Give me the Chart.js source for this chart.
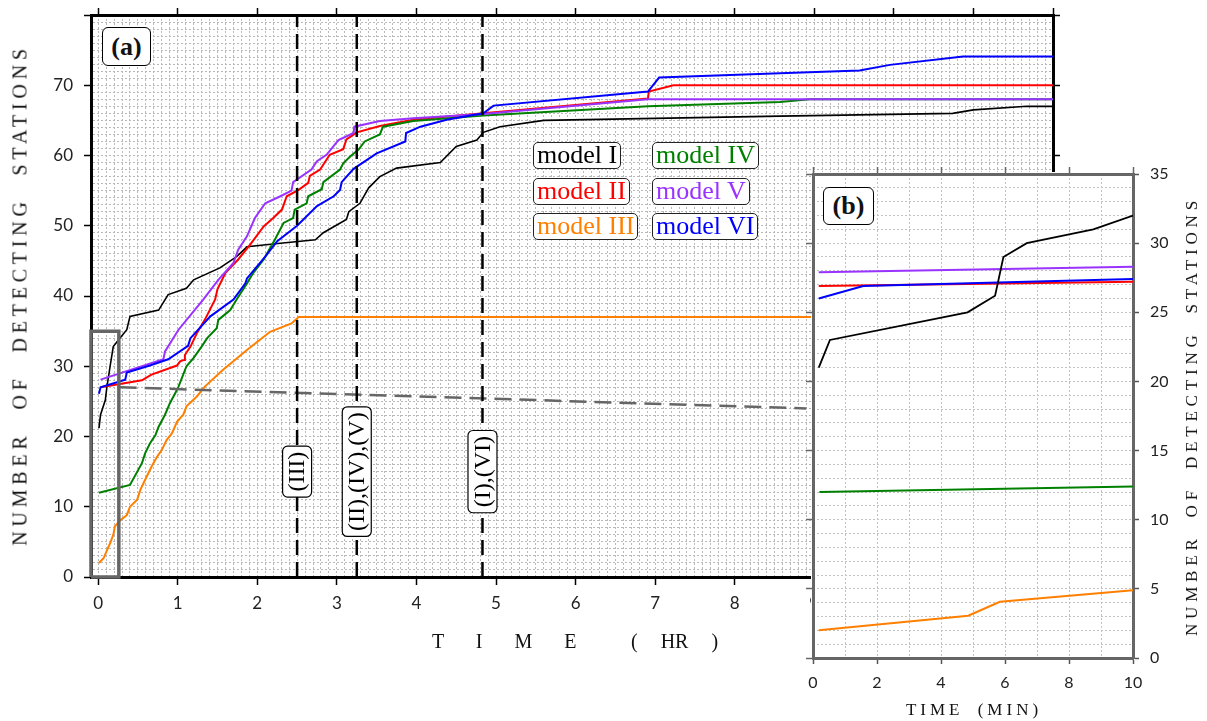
<!DOCTYPE html>
<html>
<head>
<meta charset="utf-8">
<title>Number of detecting stations vs time</title>
<script src="https://cdn.jsdelivr.net/npm/chart.js@4.4.1/dist/chart.umd.min.js"></script>
<style>
    body { margin: 0; background: #fff; }
    #wrap { position: relative; width: 1207px; height: 721px; overflow: hidden; font-family: 'Liberation Serif', 'Times New Roman', serif; color: #111; }
    canvas { position: absolute; }
    #mainChart { left: 0; top: 0; }
    #insetChart { left: 806px; top: 166px; z-index: 2; }
    .tag { position: absolute; border: 1px solid #000; border-radius: 6px; background: #fff; font-weight: bold; font-size: 26px; text-align: center; z-index: 3; }
    .leg { position: absolute; border: 1px solid #222; border-radius: 5px; background: #fff; font-size: 26px; line-height: 24px; padding: 0 3px 1px 3px; white-space: nowrap; z-index: 1; }
    .ttl { position: absolute; white-space: pre; z-index: 3; }
    .rot { transform: translate(-50%, -50%) rotate(-90deg); }
</style>
</head>
<body>
<div id="wrap">
    <canvas id="mainChart" width="1207" height="721"></canvas>
    <canvas id="insetChart" width="401" height="555"></canvas>

    <div class="tag" style="left:102px; top:27px; width:47px; height:37px; line-height:37px;">(a)</div>
    <div class="tag" style="left:823px; top:187px; width:49px; height:36px; line-height:36px;">(b)</div>

    <div class="leg" style="left:533px; top:142px; color:#000;">model I</div>
    <div class="leg" style="left:533px; top:178px; color:#ff0000;">model II</div>
    <div class="leg" style="left:533px; top:213px; color:#ff8000;">model III</div>
    <div class="leg" style="left:652px; top:142px; color:#008000;">model IV</div>
    <div class="leg" style="left:652px; top:178px; color:#9933ff;">model V</div>
    <div class="leg" style="left:652px; top:213px; color:#0000ff;">model VI</div>

    <!-- axis titles -->
    <div class="ttl rot" style="left:20px; top:295px; font-size:20px; letter-spacing:4.8px; word-spacing:12px;">NUMBER OF DETECTING STATIONS</div>
    <div class="ttl" style="left:432px; top:630px; font-size:20px; word-spacing:27px;">T I M E</div>
    <div class="ttl" style="left:631px; top:630px; font-size:20px; word-spacing:18px;">( HR )</div>
    <div class="ttl rot" style="left:1192px; top:416px; font-size:17px; letter-spacing:4.8px; word-spacing:8px;">NUMBER OF DETECTING STATIONS</div>
    <div class="ttl" style="left:974px; top:710px; font-size:17px; letter-spacing:4px; word-spacing:6px; transform:translate(-50%,-50%);">TIME (MIN)</div>
</div>

<script>
// ---- main panel (a): time in hours ----
const hrI  = [0.01, 0.03, 0.09, 0.11, 0.13, 0.15, 0.19, 0.26, 0.36, 0.40, 0.76, 0.88, 1.11, 1.20, 1.53, 1.74, 1.87, 2.29, 2.73, 2.83, 3.12, 3.15, 3.29, 3.40, 3.54, 3.75, 4.30, 4.50, 4.76, 4.84, 5.05, 5.60, 8.57, 10.74, 11.00, 11.67, 12.0];
const nI   = [21.2, 23.1, 25.2, 27.1, 28.5, 30.0, 32.8, 33.8, 35.2, 37.1, 38.0, 40.2, 41.1, 42.3, 44.0, 45.6, 47.0, 47.5, 48.0, 49.0, 50.9, 52.0, 53.2, 55.4, 57.0, 58.2, 59.0, 61.3, 62.2, 63.3, 64.1, 65.0, 65.6, 66.0, 66.5, 67.0, 67.0];

const hrII = [0.03, 0.55, 0.67, 0.99, 1.03, 1.08, 1.09, 1.16, 1.24, 1.34, 1.47, 1.50, 1.60, 1.76, 1.91, 2.08, 2.20, 2.31, 2.37, 2.52, 2.64, 2.66, 2.79, 2.91, 3.08, 3.12, 3.25, 3.54, 3.96, 4.84, 6.91, 6.92, 7.23, 12.0];
const nII  = [27.0, 28.0, 28.8, 30.1, 30.7, 30.9, 31.6, 32.8, 34.7, 36.6, 39.5, 41.0, 43.3, 45.2, 47.3, 49.9, 51.1, 52.3, 54.2, 55.1, 56.1, 57.1, 58.0, 60.1, 60.9, 62.3, 63.3, 64.2, 65.1, 66.0, 68.1, 69.1, 70.0, 70.0];

const hrIII = [0.01, 0.07, 0.11, 0.15, 0.19, 0.21, 0.28, 0.36, 0.40, 0.49, 0.53, 0.61, 0.67, 0.74, 0.80, 0.86, 0.93, 0.99, 1.07, 1.11, 1.24, 1.34, 1.57, 1.87, 2.16, 2.43, 2.52, 12.0];
const nIII  = [2.0, 2.7, 3.8, 4.8, 6.0, 7.2, 8.1, 8.8, 10.0, 11.0, 12.4, 14.3, 15.7, 17.1, 18.1, 19.5, 20.5, 22.1, 23.1, 24.3, 25.7, 27.1, 29.5, 32.3, 34.9, 36.1, 37.0, 37.0];

const hrIV = [0.01, 0.40, 0.55, 0.59, 0.65, 0.72, 0.76, 0.84, 0.90, 0.97, 1.01, 1.11, 1.20, 1.30, 1.37, 1.49, 1.51, 1.66, 1.74, 1.87, 1.95, 2.08, 2.22, 2.33, 2.45, 2.47, 2.62, 2.64, 2.81, 2.83, 3.04, 3.08, 3.17, 3.27, 3.35, 3.54, 3.58, 3.96, 4.84, 6.91, 8.57, 8.94, 12.0];
const nIV  = [12.0, 13.1, 16.2, 17.6, 19.0, 20.2, 21.4, 23.1, 24.7, 26.2, 27.1, 30.0, 31.2, 32.8, 34.0, 35.4, 36.6, 38.0, 39.5, 41.8, 43.3, 45.2, 48.0, 50.4, 51.1, 52.3, 53.2, 54.2, 55.2, 56.2, 58.0, 58.9, 59.9, 60.8, 62.0, 63.0, 64.1, 64.9, 65.7, 67.0, 67.6, 68.0, 68.0];

const hrV = [0.03, 0.82, 0.84, 1.01, 1.32, 1.51, 1.70, 1.76, 1.87, 1.97, 2.10, 2.29, 2.43, 2.45, 2.68, 2.75, 2.87, 3.02, 3.21, 3.22, 3.54, 3.96, 4.84, 6.91, 12.0];
const nV  = [28.1, 31.0, 32.1, 35.2, 39.5, 42.3, 44.7, 46.6, 48.5, 51.1, 53.2, 54.2, 55.0, 56.2, 58.0, 59.2, 60.1, 62.2, 63.2, 64.1, 64.9, 65.3, 65.9, 68.0, 68.0];

const hrVI = [0.01, 0.03, 0.34, 0.36, 0.65, 0.88, 1.13, 1.16, 1.41, 1.70, 1.85, 1.87, 2.10, 2.25, 2.50, 2.75, 2.96, 3.04, 3.06, 3.21, 3.50, 3.86, 3.87, 4.05, 4.38, 4.84, 4.97, 6.91, 7.05, 8.57, 9.57, 9.95, 10.87, 12.0];
const nVI  = [26.1, 27.0, 28.1, 29.1, 30.1, 31.0, 32.9, 34.0, 37.1, 39.5, 41.8, 42.5, 45.6, 47.8, 50.0, 52.8, 54.2, 55.1, 56.2, 58.1, 60.3, 62.0, 63.2, 64.1, 65.1, 66.0, 67.1, 69.1, 71.1, 71.7, 72.1, 72.9, 74.1, 74.1];

// dashed markers (hours) and their labels
const markerHr = [2.5, 3.25, 4.83];
const markerText = ['(III)', '(II),(IV),(V)', '(I),(VI)'];
const markerLabelN = 15;

// zoom box around the first minutes and the dashed link to panel (b)
const zoomBoxHr = [-0.09, 0.26, 0.26, -0.09, -0.09];
const zoomBoxN  = [0, 0, 35, 35, 0];
const linkHr = [0.27, 8.9];
const linkN  = [27, 24];

// ---- inset panel (b): time in minutes ----
const minI  = [0.18, 0.53, 4.83, 5.69, 5.95, 6.68, 8.76, 10];
const mnI   = [21.0, 23.0, 25.0, 26.2, 29.0, 30.0, 31.0, 32.0];
const minII = [0.18, 10];
const mnII  = [26.9, 27.2];
const minIII = [0.18, 4.85, 5.84, 10];
const mnIII  = [2.0, 3.06, 4.07, 4.9];
const minIV = [0.2, 10];
const mnIV  = [12.0, 12.4];
const minV  = [0.18, 10];
const mnV   = [27.9, 28.3];
const minVI = [0.18, 1.57, 10];
const mnVI  = [26.0, 26.9, 27.4];

const modelColors = ['#000000', '#ff0000', '#ff8000', '#008000', '#9933ff', '#0000ff'];

Chart.defaults.font.family = "Lato, 'DejaVu Sans', sans-serif";
Chart.defaults.color = '#222';
Chart.defaults.animation = false;

// HELPERS
function pts(xs, ys) {
    return xs.map((x, i) => ({ x: x, y: ys[i] }));
}

function isMult(v, step) {
    const q = v / step;
    return Math.abs(q - Math.round(q)) < 1e-6;
}

function tickList(from, to, step) {
    const out = [];
    const n = Math.round((to - from) / step);
    for (let i = 0; i <= n; i++) out.push({ value: +(from + i * step).toFixed(4) });
    return out;
}

function series(data, color, width) {
    return {
        data: data,
        showLine: true,
        borderColor: color,
        borderWidth: width,
        pointRadius: 0,
        tension: 0,
        fill: false
    };
}

// fixed box size for a scale (labels are clipped to that box)
function fixSize(size) {
    return s => {
        if (s.isHorizontal()) s.height = size; else s.width = size;
        s.paddingLeft = s.paddingRight = s.paddingTop = s.paddingBottom = 0;
    };
}

// axes that only hold the frame and tick marks, no labels
function frameAxis(position, min, max, step, color) {
    return {
        type: 'linear',
        position: position,
        min: min,
        max: max,
        afterBuildTicks: s => { s.ticks = tickList(Math.max(min, 0), max, step); },
        afterFit: fixSize(0),
        ticks: { display: false },
        grid: { drawOnChartArea: false, tickLength: 7, tickWidth: 1.5, tickColor: color },
        border: { color: color, width: 3 }
    };
}

// boxed, rotated labels on the dashed marker lines
const markerLabels = {
    id: 'markerLabels',
    afterDatasetsDraw(chart) {
        const { ctx, scales } = chart;
        ctx.save();
        ctx.font = "24px 'Liberation Serif', serif";
        markerHr.forEach((hr, i) => {
            const px = scales.x.getPixelForValue(hr);
            const py = scales.y.getPixelForValue(markerLabelN);
            const w = ctx.measureText(markerText[i]).width + 11;
            const h = 29;
            ctx.save();
            ctx.translate(px, py);
            ctx.rotate(-Math.PI / 2);
            ctx.beginPath();
            ctx.roundRect(-w / 2, -h / 2, w, h, 5);
            ctx.fillStyle = '#fff';
            ctx.fill();
            ctx.lineWidth = 1.2;
            ctx.strokeStyle = '#000';
            ctx.stroke();
            ctx.fillStyle = '#000';
            ctx.textAlign = 'center';
            ctx.textBaseline = 'middle';
            ctx.fillText(markerText[i], 0, 1);
            ctx.restore();
        });
        ctx.restore();
    }
};

// 1. MAIN PANEL (a)
const mainDatasets = [];
markerHr.forEach(hr => {
    const d = series(pts([hr, hr], [0, 80]), '#000', 2.5);
    d.borderDash = [15, 7];
    mainDatasets.push(d);
});
const box = series(pts(zoomBoxHr, zoomBoxN), '#666', 3.5);
box.clip = false;
mainDatasets.push(box);
const link = series(pts(linkHr, linkN), '#666', 2.5);
link.borderDash = [17, 8];
mainDatasets.push(link);
mainDatasets.push(series(pts(hrVI, nVI), modelColors[5], 2));
mainDatasets.push(series(pts(hrV, nV), modelColors[4], 2));
mainDatasets.push(series(pts(hrIV, nIV), modelColors[3], 2));
mainDatasets.push(series(pts(hrII, nII), modelColors[1], 2));
mainDatasets.push(series(pts(hrIII, nIII), modelColors[2], 2));
mainDatasets.push(series(pts(hrI, nI), modelColors[0], 1.6));

new Chart(document.getElementById('mainChart'), {
    type: 'scatter',
    data: { datasets: mainDatasets },
    plugins: [markerLabels],
    options: {
        responsive: false,
        devicePixelRatio: 1,
        events: [],
        layout: { padding: { left: 0, top: 15, right: 154, bottom: 94 } },
        plugins: { legend: { display: false }, tooltip: { enabled: false } },
        scales: {
            x: {
                type: 'linear',
                min: -0.09,
                max: 12,
                afterBuildTicks: s => { s.ticks = tickList(0, 12, 0.1); },
                afterFit: fixSize(50),
                ticks: {
                    autoSkip: false,
                    maxRotation: 0,
                    minRotation: 0,
                    padding: 8,
                    font: { size: 17 },
                    callback: v => isMult(v, 1) ? String(Math.round(v)) : ''
                },
                grid: {
                    color: '#b8b8b8',
                    lineWidth: 1,
                    tickLength: 8,
                    tickWidth: 1.5,
                    tickColor: c => isMult(c.tick.value, 1) ? '#000' : 'rgba(0,0,0,0)'
                },
                border: { color: '#000', width: 3, dash: [2, 2] }
            },
            y: {
                type: 'linear',
                min: 0,
                max: 80,
                afterBuildTicks: s => { s.ticks = tickList(0, 80, 1); },
                afterFit: fixSize(91),
                ticks: {
                    autoSkip: false,
                    padding: 11,
                    font: { size: 17 },
                    callback: v => (isMult(v, 10) && v <= 70) ? String(Math.round(v)) : ''
                },
                grid: {
                    color: '#b8b8b8',
                    lineWidth: 1,
                    tickLength: 7,
                    tickWidth: 1.5,
                    tickColor: c => isMult(c.tick.value, 10) ? '#000' : 'rgba(0,0,0,0)'
                },
                border: { color: '#000', width: 3, dash: [2, 2] }
            },
            xTop: frameAxis('top', -0.09, 12, 1, '#000'),
            yRight: frameAxis('right', 0, 80, 10, '#000')
        }
    }
});

// 2. INSET PANEL (b)
const insetBg = {
    id: 'insetBg',
    beforeDraw(chart) {
        const { ctx, chartArea } = chart;
        ctx.save();
        ctx.fillStyle = '#fff';
        ctx.fillRect(chartArea.left - 2, chartArea.top - 2, chart.width, chart.height);
        ctx.restore();
    }
};

new Chart(document.getElementById('insetChart'), {
    type: 'scatter',
    data: {
        datasets: [
            series(pts(minI, mnI), modelColors[0], 1.8),
            series(pts(minVI, mnVI), modelColors[5], 2),
            series(pts(minII, mnII), modelColors[1], 2),
            series(pts(minV, mnV), modelColors[4], 2),
            series(pts(minIV, mnIV), modelColors[3], 2),
            series(pts(minIII, mnIII), modelColors[2], 2)
        ]
    },
    plugins: [insetBg],
    options: {
        responsive: false,
        devicePixelRatio: 1,
        events: [],
        layout: { padding: { left: 7, top: 8, right: 34, bottom: 23 } },
        plugins: { legend: { display: false }, tooltip: { enabled: false } },
        scales: {
            x: {
                type: 'linear',
                min: 0,
                max: 10,
                afterBuildTicks: s => { s.ticks = tickList(0, 10, 1); },
                afterFit: fixSize(40),
                ticks: {
                    autoSkip: false,
                    maxRotation: 0,
                    minRotation: 0,
                    padding: 9,
                    font: { size: 16 },
                    callback: v => isMult(v, 2) ? String(Math.round(v)) : ''
                },
                grid: {
                    color: '#c2c2c2',
                    lineWidth: 1,
                    tickLength: 6,
                    tickWidth: 1.5,
                    tickColor: c => isMult(c.tick.value, 2) ? '#555' : 'rgba(0,0,0,0)'
                },
                border: { color: '#666', width: 3, dash: [2, 2] }
            },
            y: {
                type: 'linear',
                position: 'right',
                min: 0,
                max: 35,
                afterBuildTicks: s => { s.ticks = tickList(0, 35, 1); },
                afterFit: fixSize(40),
                ticks: {
                    autoSkip: false,
                    padding: 11,
                    font: { size: 16 },
                    callback: v => isMult(v, 5) ? String(Math.round(v)) : ''
                },
                grid: {
                    color: '#c2c2c2',
                    lineWidth: 1,
                    tickLength: 6,
                    tickWidth: 1.5,
                    tickColor: c => isMult(c.tick.value, 5) ? '#555' : 'rgba(0,0,0,0)'
                },
                border: { color: '#666', width: 3, dash: [2, 2] }
            },
            xTop: frameAxis('top', 0, 10, 2, '#666'),
            yLeft: frameAxis('left', 0, 35, 5, '#666')
        }
    }
});
</script>
</body>
</html>
